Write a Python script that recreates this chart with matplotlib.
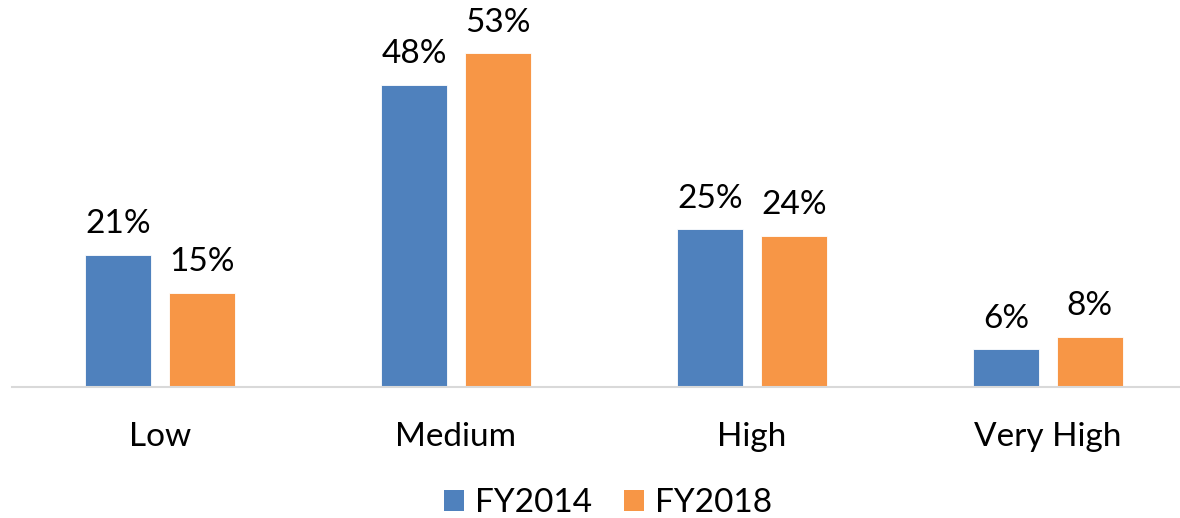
import matplotlib
matplotlib.use("Agg")
import matplotlib.pyplot as plt
from matplotlib.patches import Patch
import numpy as np

categories = ["Low", "Medium", "High", "Very High"]
fy2014 = [21, 48, 25, 6]
fy2018 = [15, 53, 24, 8]
series_names = ["FY2014", "FY2018"]
colors = ["#4F81BD", "#F79646"]

plt.rcParams['font.family'] = ['Lato', 'DejaVu Sans']

W, H = 1180, 518
fig = plt.figure(figsize=(W / 100, H / 100), dpi=100)
left_px, bottom_px, top_px = 12, 131, 20
ax = fig.add_axes([left_px / W, bottom_px / H, (W - left_px) / W, (H - bottom_px - top_px) / H])

x = np.arange(len(categories))
bw = 0.223
off = 0.141
for vals, name, c, sgn in [(fy2014, series_names[0], colors[0], -1), (fy2018, series_names[1], colors[1], 1)]:
    bars = ax.bar(x + sgn * off, vals, width=bw, color=c, edgecolor="white", linewidth=0.6, label=name, zorder=2)
    for b, v in zip(bars, vals):
        ax.annotate(f"{v}%", (b.get_x() + b.get_width() / 2, b.get_height()),
                    xytext=(0, 15.5), textcoords="offset points", ha="center", va="baseline",
                    fontsize=24, color="black")

ax.set_xlim(-0.5, -0.5 + (W - left_px) / 296)
ax.set_ylim(0, (H - bottom_px - top_px) / 6.3)
ax.set_xticks(x)
ax.set_xticklabels(categories, fontsize=24)
ax.tick_params(axis="x", length=0, pad=25)
ax.set_yticks([])
for s in ["top", "right", "left"]:
    ax.spines[s].set_visible(False)
ax.spines["bottom"].set_color("#D9D9D9")
ax.spines["bottom"].set_linewidth(1.5)

handles = [Patch(facecolor=c, edgecolor="none") for c in colors]
fig.legend(handles, series_names, loc="center", bbox_to_anchor=(608 / W, 1 - 503 / H),
           ncol=2, frameon=False, fontsize=24, handlelength=0.6, handleheight=0.6,
           handletextpad=0.33, columnspacing=0.95, borderpad=0)

fig.savefig("out.png", dpi=100)
